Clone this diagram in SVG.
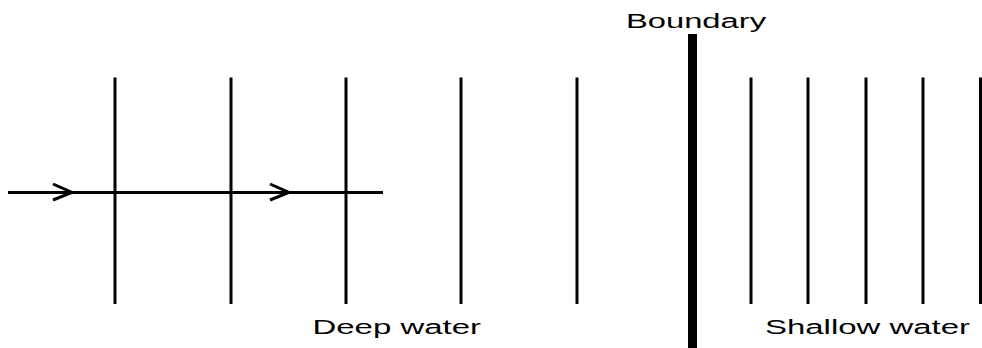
<svg xmlns="http://www.w3.org/2000/svg" width="982" height="348" viewBox="0 0 982 348">
<style>
.wave{stroke:#000;stroke-width:3;fill:none}
.ray{stroke:#000;stroke-width:3;fill:none}
.chev{stroke:#000;stroke-width:3;fill:none;stroke-linejoin:miter}
.lbl{font-family:"Liberation Sans",Arial,sans-serif;font-size:19.5px;fill:#000}
</style>
<rect width="982" height="348" fill="#fff"/>
<g id="deep-wavefronts">
<line class="wave" x1="115" y1="77.5" x2="115" y2="304"/>
<line class="wave" x1="231" y1="77.5" x2="231" y2="304"/>
<line class="wave" x1="346" y1="77.5" x2="346" y2="304"/>
<line class="wave" x1="461" y1="77.5" x2="461" y2="304"/>
<line class="wave" x1="577" y1="77.5" x2="577" y2="304"/>
</g>
<g id="shallow-wavefronts">
<line class="wave" x1="751" y1="77.5" x2="751" y2="304"/>
<line class="wave" x1="808" y1="77.5" x2="808" y2="304"/>
<line class="wave" x1="866" y1="77.5" x2="866" y2="304"/>
<line class="wave" x1="923" y1="77.5" x2="923" y2="304"/>
<line class="wave" x1="980.5" y1="77.5" x2="980.5" y2="304"/>
</g>
<g id="boundary">
<rect x="688" y="34" width="9" height="314" fill="#000"/>
<text class="lbl" x="626" y="27.5" textLength="140" lengthAdjust="spacingAndGlyphs">Boundary</text>
</g>
<g id="deep-label">
<text class="lbl" x="312.5" y="333.5" textLength="168.5" lengthAdjust="spacingAndGlyphs">Deep water</text>
</g>
<g id="shallow-label">
<text class="lbl" x="765" y="333.5" textLength="205" lengthAdjust="spacingAndGlyphs">Shallow water</text>
</g>
<g id="connectors">
<line class="ray" x1="8" y1="192.5" x2="383" y2="192.5"/>
<polyline class="chev" points="53,184 72,192.5 53,200"/>
<polyline class="chev" points="270,184 289,192.5 270,200"/>
</g>
</svg>
